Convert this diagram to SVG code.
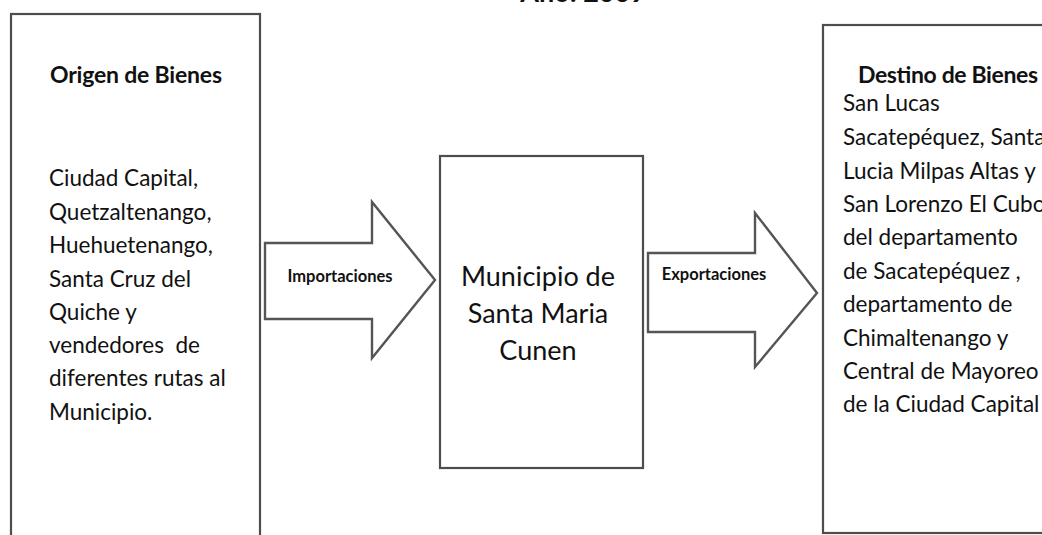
<svg xmlns="http://www.w3.org/2000/svg" width="1042" height="535" viewBox="0 0 1042 535">
<style>
.box{fill:#fff;stroke:#4d4d4d;stroke-width:2.2}
.arr{fill:#fff;stroke:#555;stroke-width:2.4;stroke-linejoin:miter}
.t{font-family:Lato,"Open Sans","Liberation Sans",sans-serif;fill:#111}
.h{font-weight:bold;font-size:23px}
.b{font-size:22.5px}
.m{font-size:27px}
.l{font-weight:bold;font-size:16.5px}
</style>
<rect width="1042" height="535" fill="#fff"/>
<text class="t" x="583" y="2" text-anchor="middle" style="font-size:27px;font-weight:bold">Año: 2009</text>
<g id="connectors">
<path class="arr" d="M265,243 H372 V202 L435,280 L372,358 V319 H265 Z"/>
<path class="arr" d="M648,253 H755 V213 L817,293 L755,367 V332 H648 Z"/>
<text class="t l" x="340" y="282" text-anchor="middle">Importaciones</text>
<text class="t l" x="714" y="280" text-anchor="middle">Exportaciones</text>
</g>
<g id="origen">
<rect class="box" x="11" y="14" width="249" height="540"/>
<text class="t h" x="50" y="83" textLength="172">Origen de Bienes</text>
<text class="t b" x="49" y="186">Ciudad Capital,</text>
<text class="t b" x="49" y="220">Quetzaltenango,</text>
<text class="t b" x="49" y="253">Huehuetenango,</text>
<text class="t b" x="49" y="287">Santa Cruz del</text>
<text class="t b" x="49" y="320">Quiche y</text>
<text class="t b" x="49" y="353" xml:space="preserve">vendedores  de</text>
<text class="t b" x="49" y="386">diferentes rutas al</text>
<text class="t b" x="49" y="420">Municipio.</text>
</g>
<g id="municipio">
<rect class="box" x="440" y="156" width="203" height="312"/>
<text class="t m" x="538" y="286" text-anchor="middle">Municipio de</text>
<text class="t m" x="538" y="323" text-anchor="middle">Santa Maria</text>
<text class="t m" x="538" y="360" text-anchor="middle">Cunen</text>
</g>
<g id="destino">
<rect class="box" x="823" y="25" width="240" height="508"/>
<text class="t h" x="858" y="83" textLength="180">Destino de Bienes</text>
<text class="t b" x="843" y="111">San Lucas</text>
<text class="t b" x="843" y="145">Sacatepéquez, Santa</text>
<text class="t b" x="843" y="179">Lucia Milpas Altas y</text>
<text class="t b" x="843" y="212">San Lorenzo El Cubo</text>
<text class="t b" x="843" y="245">del departamento</text>
<text class="t b" x="843" y="279">de Sacatepéquez ,</text>
<text class="t b" x="843" y="312">departamento de</text>
<text class="t b" x="843" y="346">Chimaltenango y</text>
<text class="t b" x="843" y="379">Central de Mayoreo</text>
<text class="t b" x="843" y="412">de la Ciudad Capital</text>
</g>
</svg>
